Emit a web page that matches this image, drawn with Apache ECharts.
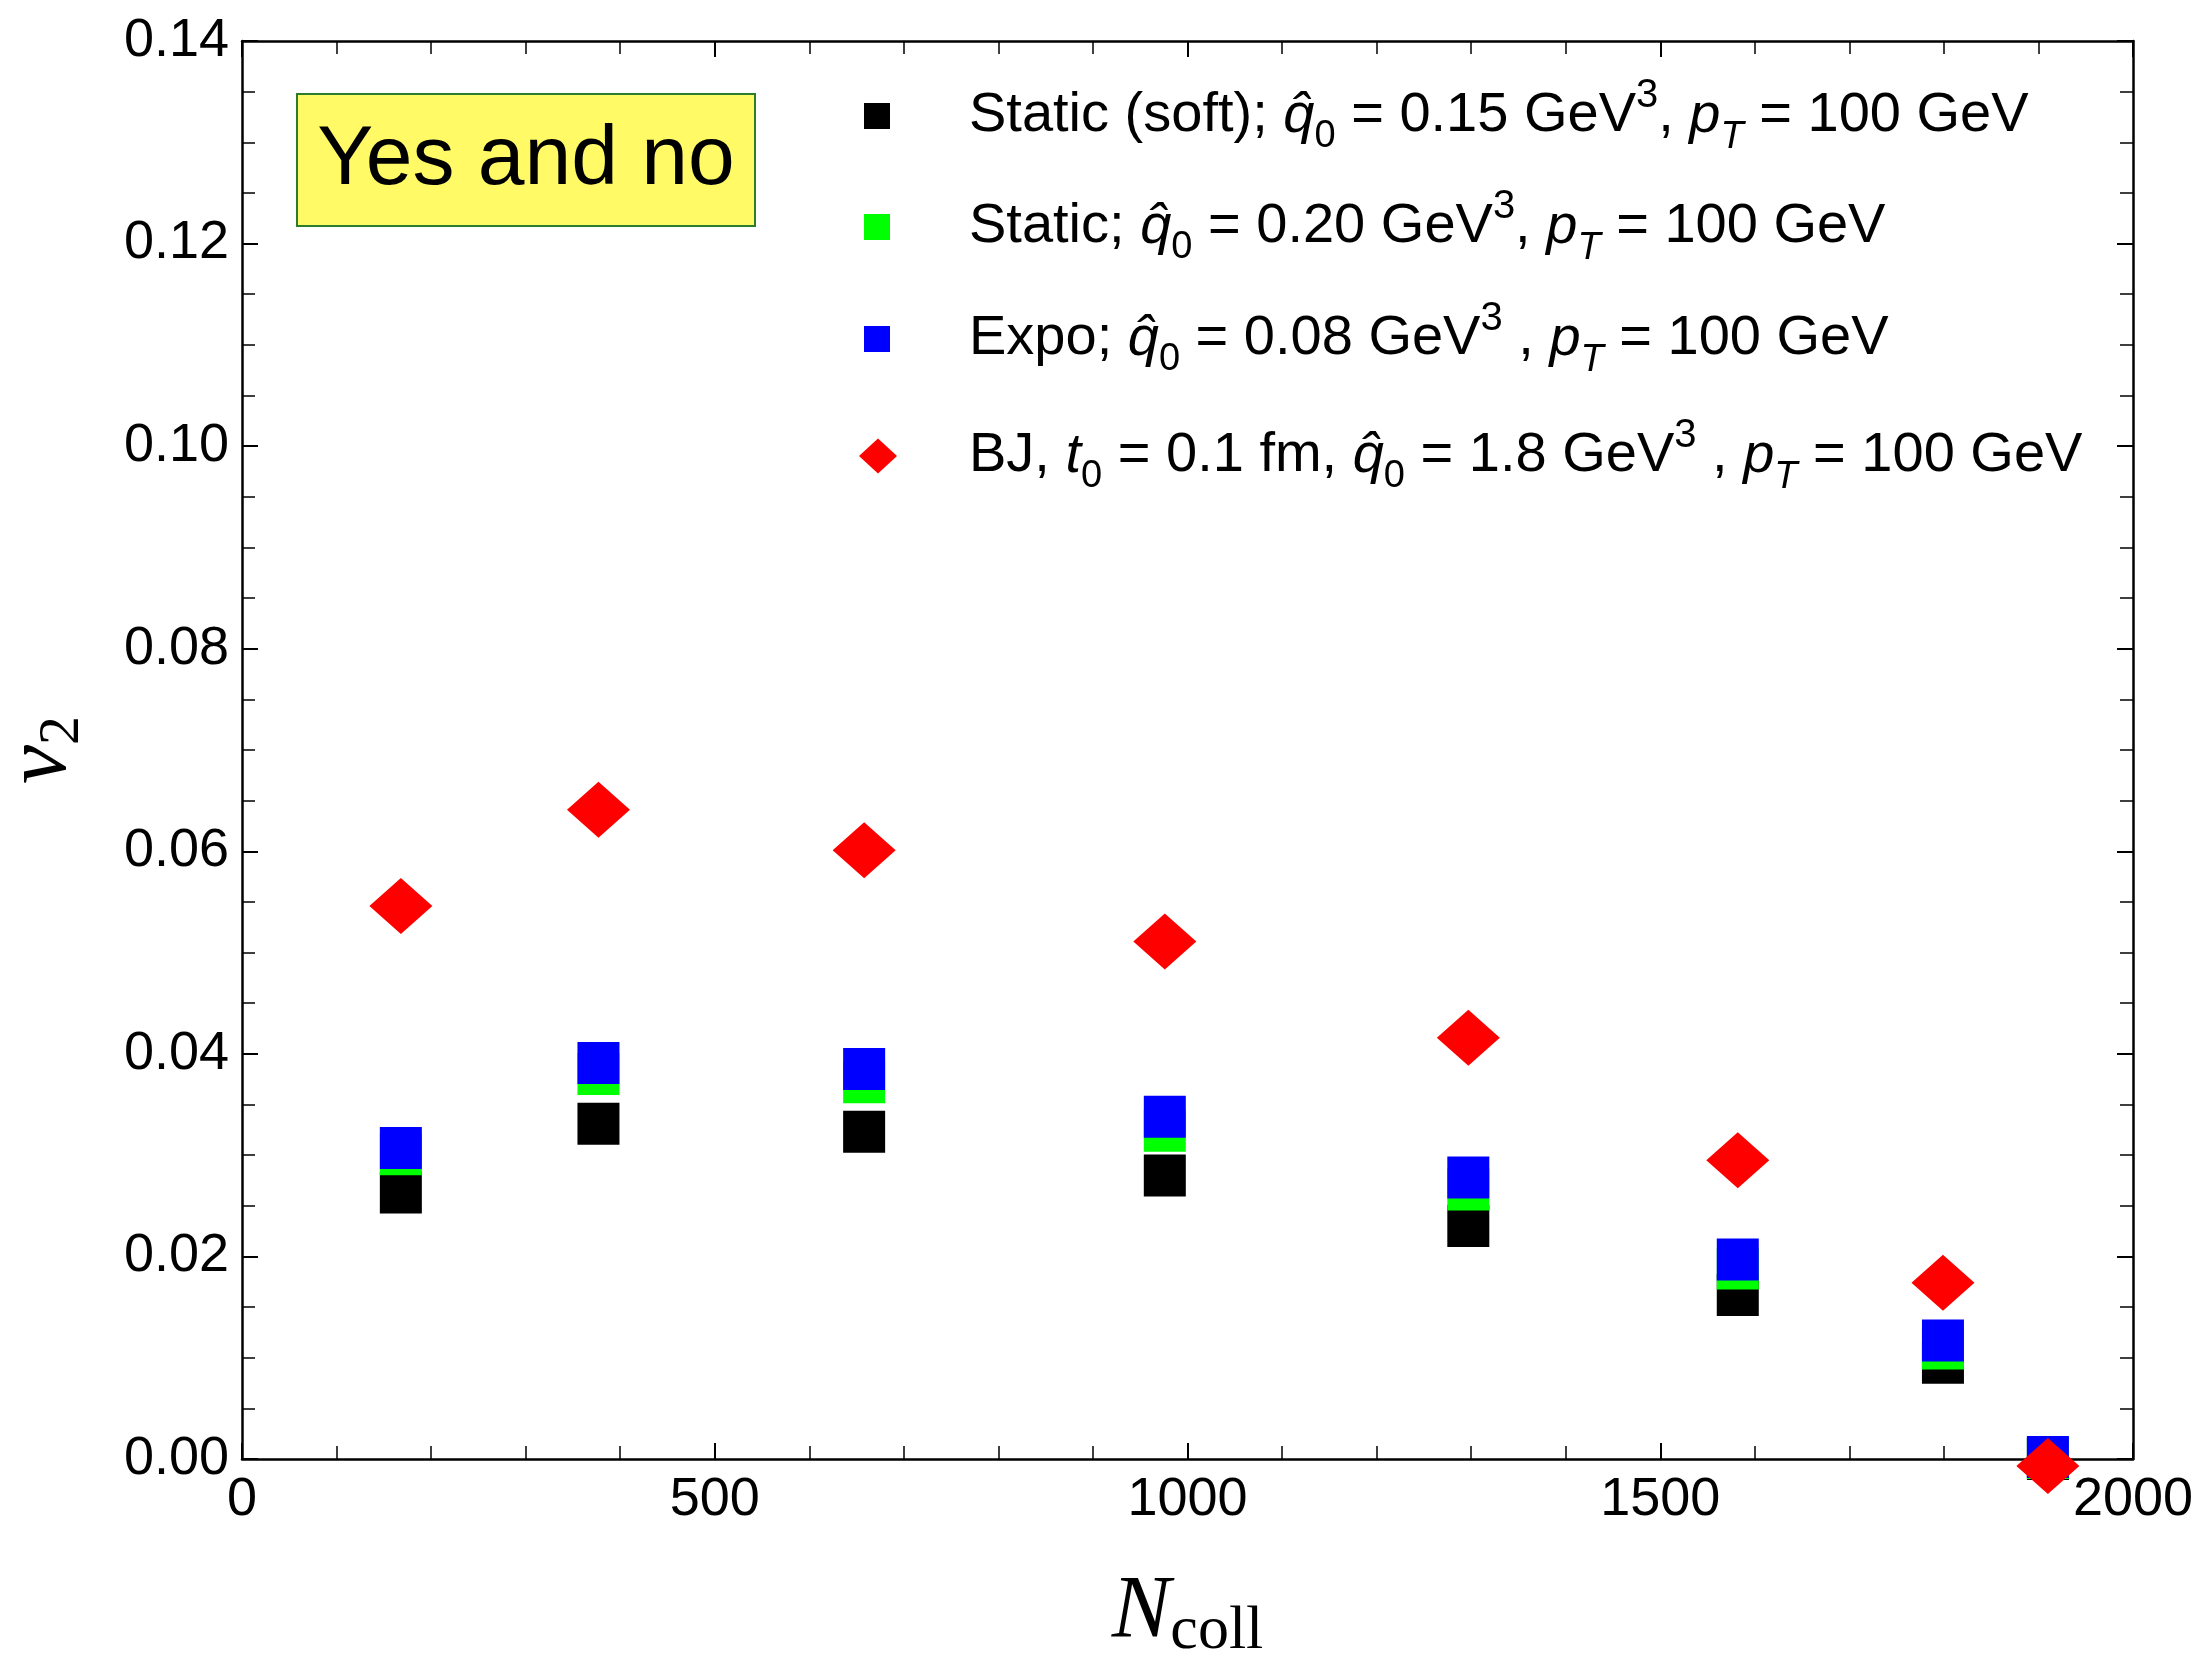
<!DOCTYPE html>
<html lang="en">
<head>
    <meta charset="UTF-8">
    <title>v2 vs Ncoll</title>
    <style>html, body {margin: 0; padding: 0; background: #fff;}</style>
</head>
<body>
<div id="main" style="width: 2197px;height:1655px;"></div>
<script src="https://cdn.jsdelivr.net/npm/echarts@6/dist/echarts.min.js"></script>
<script>
    //x positions, shared by all four series
    let nColl = [168, 377, 658, 976, 1297, 1582, 1799, 1910];
    //v2 values
    let staticSoft = [0.0263, 0.0331, 0.0323, 0.0280, 0.0230, 0.0162, 0.0095, 0.0000];
    let staticQ = [0.0301, 0.0380, 0.0372, 0.0324, 0.0266, 0.0188, 0.0109, 0.0001];
    let expo = [0.0307, 0.0391, 0.0385, 0.0338, 0.0278, 0.0197, 0.0117, 0.0002];
    let bj = [0.0546, 0.0641, 0.0601, 0.0511, 0.0416, 0.0295, 0.0174, -0.0007];
    //tick labels
    let xTickLabels = ['0', '500', '1000', '1500', '2000'];
    let yTickLabels = ['0.00', '0.02', '0.04', '0.06', '0.08', '0.10', '0.12', '0.14'];
    //series names
    let seriesNames = ['Static (soft)', 'Static', 'Expo', 'BJ'];

    //legend labels (rich text)
    let legendLabels = [
        '{g| }{n|Static (soft); }{i|q\u0302}{s0|0}{n| = 0.15 GeV}{up|3}{n|, }{i|p}{s1|T}{n| = 100 GeV}',
        '{g| }{n|Static; }{i|q\u0302}{s0|0}{n| = 0.20 GeV}{up|3}{n|, }{i|p}{s1|T}{n| = 100 GeV}',
        '{g| }{n|Expo; }{i|q\u0302}{s0|0}{n| = 0.08 GeV}{up|3}{n| , }{i|p}{s1|T}{n| = 100 GeV}',
        '{g2| }{n|BJ, }{i|t}{s2|0}{n| = 0.1 fm, }{i|q\u0302}{s0|0}{n| = 1.8 GeV}{up|3}{n| , }{i|p}{s1|T}{n| = 100 GeV}'
    ];

    function zip(xs, ys) {
        let out = [];
        for (let i = 0; i < xs.length; i++) {
            out.push([xs[i], ys[i]]);
        }
        return out;
    }

    const SANS = 'Liberation Sans';
    const SERIF = 'Liberation Serif';
    let legendRich = {
        g: {width: 74},
        g2: {width: 67},
        n: {fontFamily: SANS, fontSize: 56, color: '#000', lineHeight: 80},
        i: {fontFamily: SANS, fontSize: 56, fontStyle: 'italic', color: '#000', lineHeight: 80},
        s0: {fontFamily: SANS, fontSize: 38, color: '#000', lineHeight: 40, verticalAlign: 'bottom'},
        s1: {fontFamily: SANS, fontSize: 38, fontStyle: 'italic', color: '#000', lineHeight: 52, verticalAlign: 'bottom'},
        s2: {fontFamily: SANS, fontSize: 38, color: '#000', lineHeight: 52, verticalAlign: 'bottom'},
        up: {fontFamily: SANS, fontSize: 40, color: '#000', lineHeight: 44, verticalAlign: 'top'}
    };

    //legend rows, one legend each so icon sizes can differ
    let rowCenters = [116, 227, 339, 456];
    let legends = [];
    for (let i = 0; i < 4; i++) {
        let isDiamond = i === 3;
        legends.push({
            data: [{name: seriesNames[i], icon: isDiamond ? 'diamond' : 'rect'}],
            left: isDiamond ? 859 : 864,
            top: rowCenters[i] - 40,
            padding: 0,
            itemWidth: isDiamond ? 38 : 26,
            itemHeight: isDiamond ? 35 : 26,
            selectedMode: false,
            formatter: function () { return legendLabels[i]; },
            textStyle: {rich: legendRich}
        });
    }

    function makeXAxis(pos) {
        return {
            type: 'value', position: pos, min: 0, max: 2000, interval: 500,
            axisLine: {onZero: false, lineStyle: {color: '#000', width: 2.5}},
            axisTick: {inside: true, length: 16, lineStyle: {color: '#000', width: 2}},
            minorTick: {show: true, splitNumber: 5, length: 13, lineStyle: {color: '#000', width: 1.5}},
            splitLine: {show: false},
            axisLabel: {
                show: pos === 'bottom', fontFamily: SANS, fontSize: 54, color: '#000', margin: 14,
                formatter: function (v) { return xTickLabels[Math.round(v / 500)]; }
            }
        };
    }

    function makeYAxis(pos) {
        return {
            type: 'value', position: pos, min: 0, max: 0.14, interval: 0.02,
            axisLine: {onZero: false, lineStyle: {color: '#000', width: 2.5}},
            axisTick: {inside: true, length: 16, lineStyle: {color: '#000', width: 2}},
            minorTick: {show: true, splitNumber: 4, length: 13, lineStyle: {color: '#000', width: 1.5}},
            splitLine: {show: false},
            axisLabel: {
                show: pos === 'left', fontFamily: SANS, fontSize: 54, color: '#000', margin: 13,
                formatter: function (v) { return yTickLabels[Math.round(v / 0.02)]; }
            }
        };
    }

    let xBottom = makeXAxis('bottom');
    xBottom.name = '{n|N}{c|coll}';
    xBottom.nameLocation = 'middle';
    xBottom.nameGap = 104;
    xBottom.nameTextStyle = {
        rich: {
            n: {fontFamily: SERIF, fontStyle: 'italic', fontSize: 88, color: '#000', lineHeight: 100},
            c: {fontFamily: SERIF, fontSize: 62, color: '#000', lineHeight: 52, verticalAlign: 'bottom'}
        }
    };
    let yLeft = makeYAxis('left');
    yLeft.name = '{v|v}{s|2}';
    yLeft.nameLocation = 'middle';
    yLeft.nameGap = 150;
    yLeft.nameTextStyle = {
        rich: {
            v: {fontFamily: SERIF, fontStyle: 'italic', fontSize: 88, color: '#000', lineHeight: 100},
            s: {fontFamily: SERIF, fontSize: 58, color: '#000', lineHeight: 52, verticalAlign: 'bottom'}
        }
    };

    let chart = echarts.init(document.getElementById('main'));
    let option = {
        animation: false,
        backgroundColor: '#fff',
        grid: {left: 242, top: 41, right: 64, bottom: 196, containLabel: false, outerBoundsMode: 'none'},
        legend: legends,
        xAxis: [xBottom, makeXAxis('top')],
        yAxis: [yLeft, makeYAxis('right')],
        graphic: [{
            type: 'group', left: 296, top: 93,
            children: [
                {type: 'rect', shape: {x: 0, y: 0, width: 458, height: 132},
                    style: {fill: '#fffa66', stroke: '#2a7d2a', lineWidth: 2}},
                {type: 'text', x: 229, y: 67,
                    style: {text: 'Yes and no', fontFamily: SANS, fontSize: 84, fill: '#000',
                        align: 'center', verticalAlign: 'middle'}}
            ]
        }],
        series: [
            {name: seriesNames[0], type: 'scatter', symbol: 'rect', symbolSize: 42, clip: false,
                itemStyle: {color: '#000000', opacity: 1}, data: zip(nColl, staticSoft)},
            {name: seriesNames[1], type: 'scatter', symbol: 'rect', symbolSize: 42, clip: false,
                itemStyle: {color: '#00ff00', opacity: 1}, data: zip(nColl, staticQ)},
            {name: seriesNames[2], type: 'scatter', symbol: 'rect', symbolSize: 42, clip: false,
                itemStyle: {color: '#0000ff', opacity: 1}, data: zip(nColl, expo)},
            {name: seriesNames[3], type: 'scatter', symbol: 'diamond', symbolSize: [63, 56], clip: false,
                itemStyle: {color: '#ff0000', opacity: 1}, data: zip(nColl, bj)}
        ]
    };
    chart.setOption(option);
</script>
</body>
</html>
